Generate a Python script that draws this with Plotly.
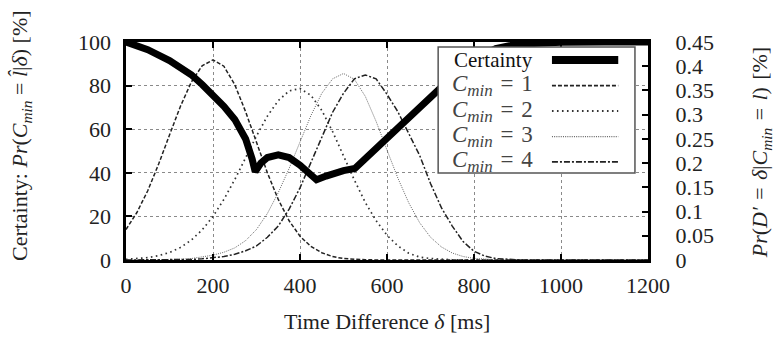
import plotly.graph_objects as go

# ---------------- data ----------------
delta_ms = [0, 25, 50, 75, 100, 125, 150, 175, 200, 225, 250, 275, 300, 325, 350, 375,
            400, 425, 450, 475, 500, 525, 550, 575, 600, 625, 650, 675, 700, 725, 750, 775,
            800, 825, 850, 875, 900, 925, 950, 975, 1000, 1025, 1050, 1075, 1100, 1125,
            1150, 1175, 1200]

cmin1 = [0.063, 0.098, 0.143, 0.198, 0.258, 0.317, 0.367, 0.401, 0.413, 0.400, 0.362, 0.306,
         0.243, 0.180, 0.125, 0.081, 0.049, 0.028, 0.015, 0.007, 0.003, 0.001, 0.0005, 0.0002,
         0, 0, 0, 0, 0, 0, 0, 0, 0, 0, 0, 0, 0, 0, 0, 0, 0, 0, 0, 0, 0, 0, 0, 0, 0]

cmin2 = [0.0013, 0.0026, 0.0049, 0.009, 0.0155, 0.0258, 0.041, 0.062, 0.090, 0.125, 0.166,
         0.211, 0.256, 0.297, 0.329, 0.349, 0.354, 0.340, 0.309, 0.265, 0.215, 0.165, 0.119,
         0.081, 0.051, 0.029, 0.014, 0.006, 0.003, 0.0012, 0.0005, 0.0002,
         0, 0, 0, 0, 0, 0, 0, 0, 0, 0, 0, 0, 0, 0, 0, 0, 0]

cmin3 = [0, 0, 0.0001, 0.0003, 0.0007, 0.0015, 0.003, 0.006, 0.010, 0.016, 0.025, 0.040,
         0.063, 0.096, 0.139, 0.189, 0.245, 0.298, 0.344, 0.374, 0.385, 0.373, 0.338, 0.286,
         0.227, 0.169, 0.118, 0.077, 0.047, 0.027, 0.0144, 0.0072, 0.0034, 0.0015, 0.0006,
         0.0002, 0, 0, 0, 0, 0, 0, 0, 0, 0, 0, 0, 0, 0]

cmin4 = [0, 0, 0, 0.0001, 0.0003, 0.0006, 0.0012, 0.0025, 0.0045, 0.0072, 0.0117, 0.019,
         0.029, 0.047, 0.070, 0.105, 0.149, 0.200, 0.254, 0.305, 0.344, 0.374, 0.382, 0.374,
         0.342, 0.306, 0.261, 0.216, 0.158, 0.108, 0.070, 0.038, 0.018, 0.008, 0.003, 0.001,
         0.0004, 0, 0, 0, 0, 0, 0, 0, 0, 0, 0, 0, 0]

certainty_ms = [0, 50, 100, 150, 175, 200, 225, 250, 275, 290, 297, 310, 325, 350, 375, 400,
                425, 438, 460, 480, 500, 526, 550, 600, 650, 700, 750, 800, 850, 900, 950,
                1000, 1100, 1200]
certainty_pct = [100, 96.5, 91.5, 85, 80.5, 76, 70.5, 64.5, 55.5, 46.3, 40.5, 44.5, 47, 48.2,
                 47, 43.5, 39.5, 36.8, 38.5, 40, 41, 42, 46.6, 56, 65.6, 75.2, 84, 92, 97,
                 99, 99.6, 99.9, 100, 100]

x_ticks = [0, 200, 400, 600, 800, 1000, 1200]
left_ticks = [0, 20, 40, 60, 80, 100]
right_ticks = [0, 0.05, 0.1, 0.15, 0.2, 0.25, 0.3, 0.35, 0.4, 0.45]
right_ticktext = ["0", "0.05", "0.1", "0.15", "0.2", "0.25", "0.3", "0.35", "0.4", "0.45"]

SP = "&#8196;"  # three-per-em space (math-like spacing around "=")
CMIN = "<i>C</i><sub><span style='font-size:17px'><i>min</i></span></sub>"
legend_labels = ["Certainty",
                 CMIN + SP + "=" + SP + "1",
                 CMIN + SP + "=" + SP + "2",
                 CMIN + SP + "=" + SP + "3",
                 CMIN + SP + "=" + SP + "4"]

# ---------------- styles ----------------
FONT = "Liberation Serif"
styles = [
    dict(color="#000000", width=7, dash="solid"),
    dict(color="#222222", width=1.5, dash="4px,2px"),
    dict(color="#333333", width=1.7, dash="1.6px,3.4px"),
    dict(color="#666666", width=1.0, dash="1px,1.2px"),
    dict(color="#222222", width=1.5, dash="6px,2px,2px,2px"),
]

fig = go.Figure()
for vals, st in zip([cmin1, cmin2, cmin3, cmin4], styles[1:]):
    fig.add_trace(go.Scatter(x=delta_ms, y=vals, mode="lines", yaxis="y",
                             line=dict(color=st["color"], width=st["width"], dash=st["dash"]),
                             showlegend=False, hoverinfo="skip"))
fig.add_trace(go.Scatter(x=certainty_ms, y=certainty_pct, mode="lines", yaxis="y2",
                         line=dict(color="#000000", width=7),
                         showlegend=False, hoverinfo="skip"))

tickfont = dict(family=FONT, size=22, color="#222222")

fig.update_layout(
    width=779, height=342,
    margin=dict(l=126, r=131, t=42, b=82),
    paper_bgcolor="white", plot_bgcolor="white",
    showlegend=False,
    xaxis=dict(range=[0, 1200], tickvals=x_ticks, ticks="inside", ticklen=6, tickwidth=2,
               tickcolor="black", showline=True, linewidth=3, linecolor="black",
               mirror="ticks", showgrid=True, gridcolor="#8a8a8a", griddash="dot",
               gridwidth=1, zeroline=False, tickfont=tickfont, ticklabelstandoff=4),
    yaxis=dict(range=[0, 0.45], side="right", tickvals=right_ticks, ticktext=right_ticktext,
               ticks="inside", ticklen=6, tickwidth=2, tickcolor="black",
               showline=True, linewidth=3, linecolor="black", mirror=True,
               showgrid=False, zeroline=False, tickfont=tickfont, ticklabelstandoff=20),
    yaxis2=dict(range=[0, 100], side="left", overlaying="y", tickvals=left_ticks,
                ticks="inside", ticklen=6, tickwidth=2, tickcolor="black",
                showline=False, showgrid=True, gridcolor="#8a8a8a", griddash="dot",
                gridwidth=1, zeroline=False, tickfont=tickfont, ticklabelstandoff=14),
)

# ---------------- custom legend (symbols to the right of the text) ----------------
lx0, lx1, ly0, ly1 = 0.598, 0.975, 0.399, 0.977
row_y = [0.917, 0.800, 0.683, 0.566, 0.450]
text_x = 0.7835
samp_x0, samp_x1 = 0.816, 0.943

shapes = [dict(type="rect", xref="paper", yref="paper", x0=lx0, x1=lx1, y0=ly0, y1=ly1,
               fillcolor="white", line=dict(color="#555555", width=1.5), layer="above")]
for yy, st in zip(row_y, styles):
    shapes.append(dict(type="line", xref="paper", yref="paper", x0=samp_x0, x1=samp_x1,
                       y0=yy, y1=yy, layer="above",
                       line=dict(color=st["color"], width=(8 if st["width"] > 5 else st["width"] + 0.3),
                                 dash=st["dash"])))
fig.update_layout(shapes=shapes)

annotations = []
for i, (yy, lab) in enumerate(zip(row_y, legend_labels)):
    annotations.append(dict(xref="paper", yref="paper", x=text_x, y=yy, text=lab,
                            showarrow=False, xanchor="right", yanchor="middle",
                            font=dict(family=FONT, size=(21 if i == 0 else 23),
                                      color="#111111" if i == 0 else "#444444")))

# axis titles
annotations.append(dict(xref="paper", yref="paper", x=0.5, y=-0.284,
                        text="Time Difference <i>δ</i> [ms]", showarrow=False,
                        xanchor="center", yanchor="middle",
                        font=dict(family=FONT, size=22, color="#222222")))
annotations.append(dict(xref="paper", yref="paper", x=-0.201, y=0.569,
                        text="Certainty: <i>Pr</i>(<i>C</i><sub><i>min</i></sub> = <i>l̂</i>|<i>δ</i>) [%]",
                        showarrow=False, textangle=-90, xanchor="center", yanchor="middle",
                        font=dict(family=FONT, size=22, color="#222222")))
annotations.append(dict(xref="paper", yref="paper", x=1.217, y=0.491,
                        text="<i>Pr</i>(<i>D′</i>" + SP + "=" + SP + "<i>δ</i>|<i>C</i><sub><i>min</i></sub>"
                             + SP + "=" + SP + "<i>l</i>)" + SP + "[%]",
                        showarrow=False, textangle=-90, xanchor="center", yanchor="middle",
                        font=dict(family=FONT, size=22, color="#222222")))
fig.update_layout(annotations=annotations)

fig.write_html("out.html", config={"displayModeBar": False},
               post_script="document.body.style.margin='0px';")
